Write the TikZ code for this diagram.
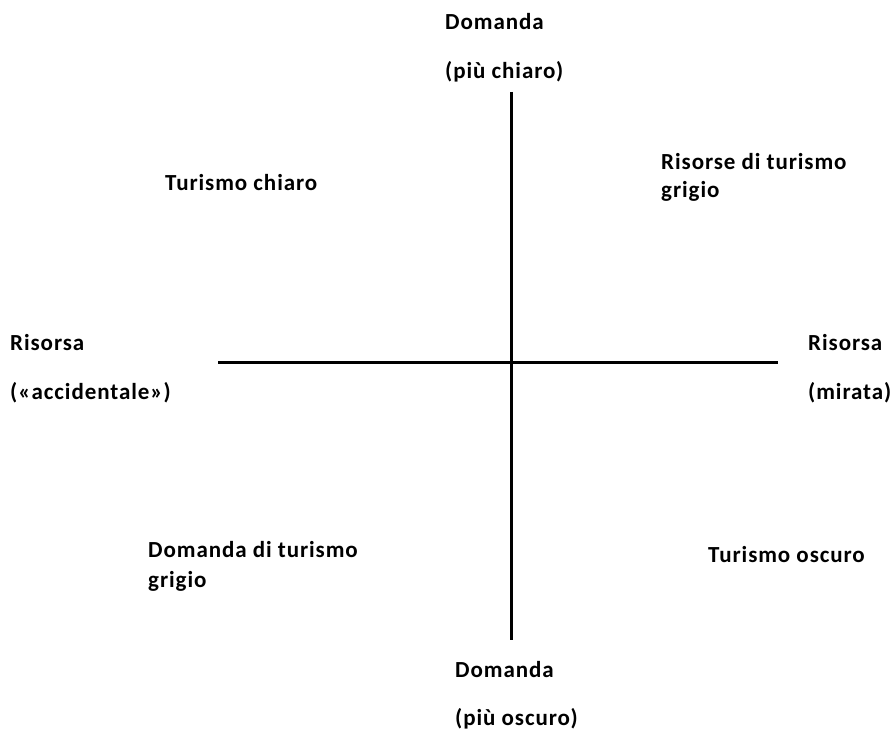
\documentclass[tikz,border=0pt]{standalone}
\usepackage{fontspec}
\setmainfont{Carlito}[LetterSpace=4]
\begin{document}
\begin{tikzpicture}[x=1pt,y=-1pt,
  lbl/.style={anchor=base west,inner sep=0pt,font=\fontsize{23}{28}\selectfont\bfseries},
  axis/.style={line width=3pt,black}]
\useasboundingbox (0,0) rectangle (894,733);
\coordinate (top) at (511,92);
\coordinate (bot) at (511,640);
\coordinate (lft) at (218,362);
\coordinate (rgt) at (778,362);
\draw[axis] (top) -- (bot);
\draw[axis] (lft) -- (rgt);
\node[lbl] (dt1) at (445,30) {Domanda};
\node[lbl] (dt2) at (445,79) {(più chiaro)};
\node[lbl] (tc) at (165,190) {Turismo chiaro};
\node[lbl] (rg1) at (661,169) {Risorse di turismo};
\node[lbl] (rg2) at (661,197) {grigio};
\node[lbl] (rl1) at (10,350) {Risorsa};
\node[lbl] (rl2) at (10,399) {(«accidentale»)};
\node[lbl] (rr1) at (808,350) {Risorsa};
\node[lbl] (rr2) at (808,399) {(mirata)};
\node[lbl] (dg1) at (148,557) {Domanda di turismo};
\node[lbl] (dg2) at (148,587) {grigio};
\node[lbl] (to) at (708,562) {Turismo oscuro};
\node[lbl] (db1) at (455,677) {Domanda};
\node[lbl] (db2) at (455,725) {(più oscuro)};
\end{tikzpicture}
\end{document}
